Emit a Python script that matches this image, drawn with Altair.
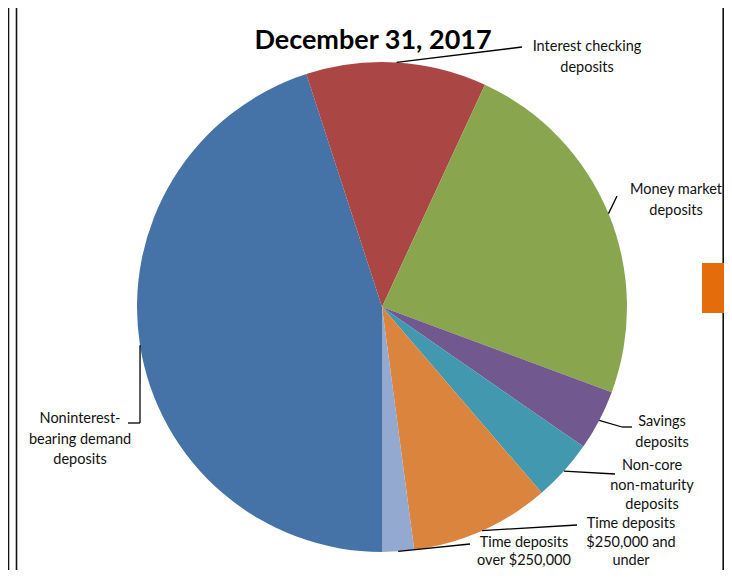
import math
import altair as alt
import pandas as pd

# ---------------- data ----------------
categories = [
    "Noninterest-bearing demand deposits",
    "Interest checking deposits",
    "Money market deposits",
    "Savings deposits",
    "Non-core non-maturity deposits",
    "Time deposits $250,000 and under",
    "Time deposits over $250,000",
]
shares = [45.0, 11.9, 23.75, 4.0, 4.05, 9.2, 2.1]
label_lines = [
    ["Noninterest-", "bearing demand", "deposits"],
    ["Interest checking", "deposits"],
    ["Money market", "deposits"],
    ["Savings", "deposits"],
    ["Non-core", "non-maturity", "deposits"],
    ["Time deposits", "$250,000 and", "under"],
    ["Time deposits", "over $250,000"],
]
title_text = "December 31, 2017"

# ---------------- styles / layout ----------------
colors = ["#4572A7", "#AA4643", "#89A54E", "#71588F", "#4198AF", "#DB843D", "#93A9CF"]
FONT = "Lato"
W, H = 716, 562          # drawing size
OX, OY = 8, 8            # page offset
CX, CY, R = 382, 307, 245
START = math.pi          # first slice starts at 6 o'clock
label_anchor = [(80, 419), (587, 47), (676, 190), (662, 422), (652, 466), (631, 524), (524, 543)]
label_lh = [20.5, 20.5, 20.5, 20.5, 19.5, 18.6, 18.0]
leader_bends = [
    [(140, 423), (128, 423)],
    [(522, 47)],
    [(617, 196)],
    [(622, 427), (632, 427)],
    [(615, 474)],
    [(577, 525)],
    [(470, 544)],
]
frame_segments = [
    (8.5, 8, 8.5, 578),
    (16.5, 6.5, 16.5, 578),
    (16, 6.5, 731, 6.5),
    (723.2, 6, 723.2, 578),
]
orange_box = (702, 263, 732, 313)

# ---------------- derived tables ----------------
pie_df = pd.DataFrame({"category": categories, "share": shares, "order": list(range(len(categories)))})

total = sum(shares)
cum = 0.0
seg_rows = []
for i, s in enumerate(shares):
    mid = START + 2 * math.pi * (cum + s / 2) / total
    cum += s
    pts = [(CX + R * math.sin(mid), CY - R * math.cos(mid))] + leader_bends[i]
    for (x1, y1), (x2, y2) in zip(pts[:-1], pts[1:]):
        seg_rows.append({"x": x1, "y": y1, "x2": x2, "y2": y2})
seg_df = pd.DataFrame(seg_rows)

text_rows = []
for (ax, ay), lh, lines in zip(label_anchor, label_lh, label_lines):
    for j, t in enumerate(lines):
        text_rows.append({"x": ax, "y": ay + j * lh, "t": t})
text_df = pd.DataFrame(text_rows)

frame_df = pd.DataFrame(frame_segments, columns=["x", "y", "x2", "y2"])
box_df = pd.DataFrame([orange_box], columns=["x", "y", "x2", "y2"])
title_df = pd.DataFrame({"x": [373], "y": [41], "t": [title_text]})

xs = alt.Scale(domain=[OX, OX + W], range=[0, W], nice=False, zero=False)
ys = alt.Scale(domain=[OY, OY + H], range=[0, H], nice=False, zero=False)

pie = alt.Chart(pie_df).mark_arc(radius=R).encode(
    theta=alt.Theta("share:Q", stack=True, scale=alt.Scale(range=[START, START + 2 * math.pi])),
    color=alt.Color("category:N", scale=alt.Scale(domain=categories, range=colors), legend=None),
    order=alt.Order("order:Q"),
    x=alt.value(CX - OX),
    y=alt.value(CY - OY),
)

leaders = alt.Chart(seg_df).mark_rule(color="#000000", strokeWidth=1.3).encode(
    x=alt.X("x:Q", scale=xs, axis=None),
    y=alt.Y("y:Q", scale=ys, axis=None),
    x2="x2:Q",
    y2="y2:Q",
)

frame = alt.Chart(frame_df).mark_rule(color="#111111", strokeWidth=1.6).encode(
    x=alt.X("x:Q", scale=xs, axis=None),
    y=alt.Y("y:Q", scale=ys, axis=None),
    x2="x2:Q",
    y2="y2:Q",
)

box = alt.Chart(box_df).mark_rect(color="#E46C0A").encode(
    x=alt.X("x:Q", scale=xs, axis=None),
    y=alt.Y("y:Q", scale=ys, axis=None),
    x2="x2:Q",
    y2="y2:Q",
)

labels = alt.Chart(text_df).mark_text(
    font=FONT, fontSize=14.5, color="#111111", align="center", baseline="middle"
).encode(
    x=alt.X("x:Q", scale=xs, axis=None),
    y=alt.Y("y:Q", scale=ys, axis=None),
    text="t:N",
)

title = alt.Chart(title_df).mark_text(
    font=FONT, fontSize=27, fontWeight="bold", color="#000000", align="center", baseline="middle"
).encode(
    x=alt.X("x:Q", scale=xs, axis=None),
    y=alt.Y("y:Q", scale=ys, axis=None),
    text="t:N",
)

chart = alt.layer(frame, box, pie, leaders, labels, title).properties(
    width=W, height=H, padding=0, autosize=alt.AutoSizeParams(type="none")
).configure_view(stroke=None)

chart.save("out.html", embed_options={"renderer": "svg", "actions": False})
